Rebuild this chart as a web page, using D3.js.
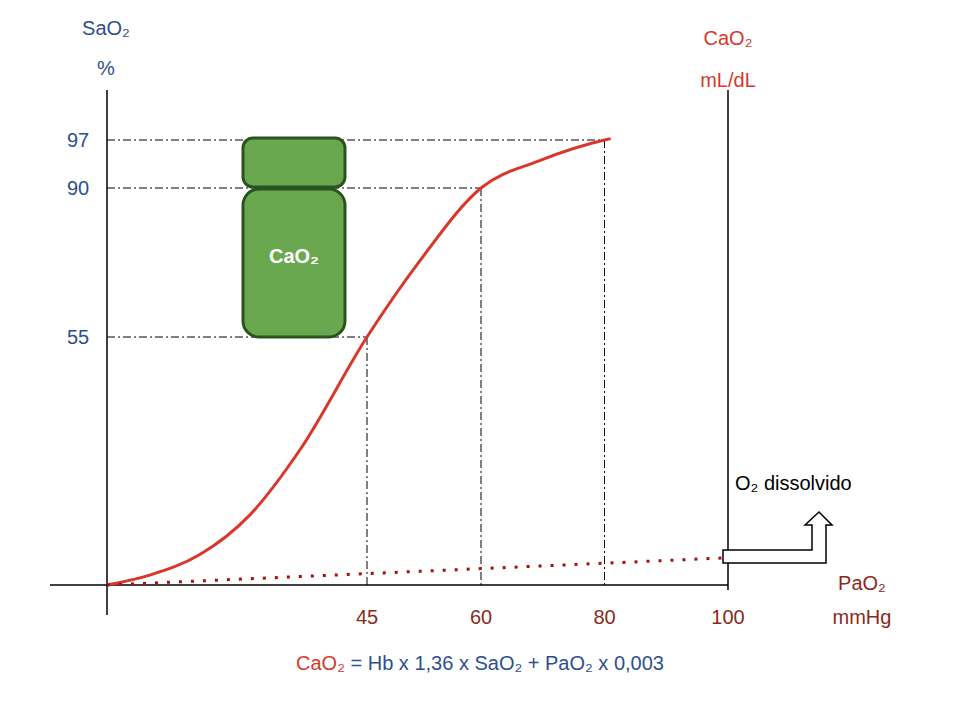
<!DOCTYPE html>
<html>
<head>
<meta charset="utf-8">
<script src="https://cdn.jsdelivr.net/npm/d3@7"></script>
<style>
  body { margin: 0; background: #fff; }
  text { font-family: "Liberation Sans", Arial, sans-serif; }
</style>
</head>
<body>
<div id="chart"></div>
<script>
// data
const xTicks = [45, 60, 80, 100];
const yTicks = [55, 90, 97];
// dissociation curve (PaO2 mmHg, SaO2 %)
const curvePaO2 = [0, 7.4, 16, 24.7, 33.4, 45, 52, 60, 69.5, 80, 81];
const curveSaO2 = [0, 2.2, 6.7, 15.5, 30, 55, 73, 90, 94, 97, 97.2];
// dissolved O2 line
const dissolvedPaO2 = [0, 100];
const dissolvedVal = [0, 6];
// guide points (PaO2, SaO2)
const guidePaO2 = [45, 60, 80];
const guideSaO2 = [55, 90, 97];

const width = 960, height = 720;
const blue = '#2e4f8f', red = '#d9372b', darkRed = '#8b2a1a';

const svg = d3.select('#chart').append('svg')
  .attr('width', width).attr('height', height);

// schematic (non-uniform) axes
const x = d3.scaleLinear().domain([0, 45, 60, 100]).range([107, 367, 481, 728]);
const y = d3.scaleLinear().domain([0, 55, 90, 97]).range([585, 337, 188, 140]);

// axes lines
svg.append('line').attr('x1', x(0)).attr('x2', x(0)).attr('y1', 90).attr('y2', 615)
  .attr('stroke', '#000').attr('stroke-width', 1.5);
svg.append('line').attr('x1', 50).attr('x2', x(100)).attr('y1', y(0)).attr('y2', y(0))
  .attr('stroke', '#000').attr('stroke-width', 1.5);
svg.append('line').attr('x1', x(100)).attr('x2', x(100)).attr('y1', 90).attr('y2', 590)
  .attr('stroke', '#000').attr('stroke-width', 1.5);

// guide dash-dot lines
const guides = svg.append('g').attr('stroke', '#000').attr('stroke-width', 1)
  .attr('stroke-dasharray', '8,3,2,3');
guidePaO2.forEach((p, i) => {
  guides.append('line').attr('x1', x(0)).attr('x2', x(p))
    .attr('y1', y(guideSaO2[i])).attr('y2', y(guideSaO2[i]));
  guides.append('line').attr('x1', x(p)).attr('x2', x(p))
    .attr('y1', y(guideSaO2[i])).attr('y2', y(0));
});

// tick labels
svg.selectAll('.xt').data(xTicks).join('text')
  .attr('x', d => x(d)).attr('y', 624).attr('text-anchor', 'middle')
  .attr('font-size', 20).attr('fill', darkRed).text(d => d);
svg.selectAll('.yt').data(yTicks).join('text')
  .attr('x', 78).attr('y', d => y(d) + 7).attr('text-anchor', 'middle')
  .attr('font-size', 20).attr('fill', blue).text(d => d);

// green bottle
const bx = 243, bw = 102;
svg.append('rect').attr('x', bx).attr('y', 138).attr('width', bw).attr('height', 49)
  .attr('rx', 10).attr('fill', '#6aa84f').attr('stroke', '#2b5320').attr('stroke-width', 3);
svg.append('rect').attr('x', bx).attr('y', 189).attr('width', bw).attr('height', 148)
  .attr('rx', 16).attr('fill', '#6aa84f').attr('stroke', '#2b5320').attr('stroke-width', 3);
svg.append('text').attr('x', bx + bw / 2).attr('y', 263).attr('text-anchor', 'middle')
  .attr('font-size', 20).attr('font-weight', 'bold').attr('fill', '#fff').text('CaO₂');

// curve
const curve = curvePaO2.map((p, i) => [x(p), y(curveSaO2[i])]);
svg.append('path').attr('d', d3.line().curve(d3.curveMonotoneX)(curve))
  .attr('fill', 'none').attr('stroke', red).attr('stroke-width', 3);

// dissolved dotted line
const yd = d3.scaleLinear().domain([0, 6]).range([585, 558]);
svg.append('line')
  .attr('x1', x(dissolvedPaO2[0])).attr('y1', yd(dissolvedVal[0]))
  .attr('x2', x(dissolvedPaO2[1]) - 5).attr('y2', yd(dissolvedVal[1]))
  .attr('stroke', '#a01010').attr('stroke-width', 3).attr('stroke-dasharray', '3,9');

// bent arrow
svg.append('path')
  .attr('d', 'M723,550 L812,550 L812,525 L805,525 L819,512 L832,525 L826,525 L826,563 L723,563 Z')
  .attr('fill', '#fff').attr('stroke', '#000').attr('stroke-width', 1.5);
svg.append('text').attr('x', 735).attr('y', 490).attr('font-size', 20).attr('fill', '#000')
  .text('O₂ dissolvido');

// axis titles
const t = (tx, ty, s, c) => svg.append('text').attr('x', tx).attr('y', ty)
  .attr('text-anchor', 'middle').attr('font-size', 20).attr('fill', c).text(s);
t(106, 35, 'SaO₂', blue);
t(106, 75, '%', blue);
t(728, 45, 'CaO₂', red);
t(728, 87, 'mL/dL', red);
t(862, 590, 'PaO₂', darkRed);
t(862, 624, 'mmHg', darkRed);

// formula
const f = svg.append('text').attr('x', 480).attr('y', 670).attr('text-anchor', 'middle')
  .attr('font-size', 20);
f.append('tspan').attr('fill', red).text('CaO₂');
f.append('tspan').attr('fill', blue).text(' = Hb x 1,36 x SaO₂ + PaO₂ x 0,003');
</script>
</body>
</html>
